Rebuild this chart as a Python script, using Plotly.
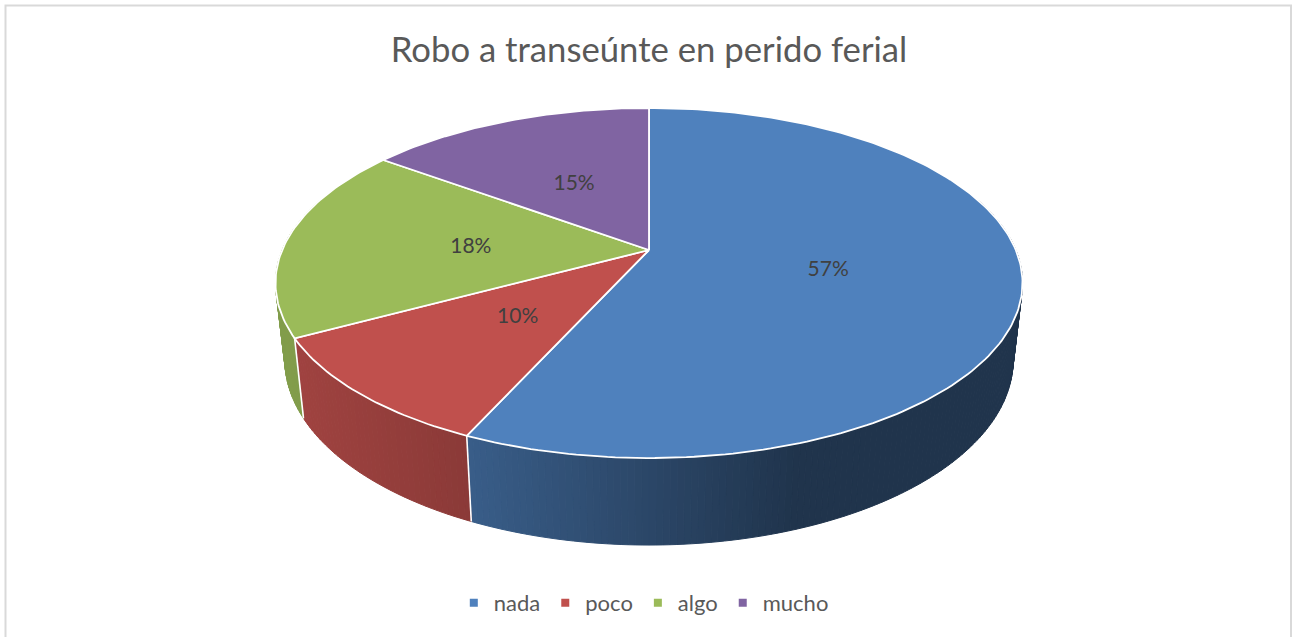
import math
import plotly.graph_objects as go

categories = ["nada", "poco", "algo", "mucho"]
values = [56.75, 10.35, 18.0, 14.9]
base_colors = ["#4f81bd", "#c0504d", "#9bbb59", "#8064a2"]
value_labels = ["57%", "10%", "18%", "15%"]
chart_title = "Robo a transeúnte en perido ferial"

FONT = "Lato, Carlito, Calibri, sans-serif"
TEXT = "#595959"
W, H = 1298, 637

# perspective projection of the pie disc
APEX_X, APEX_Y = 649.0, 250.0
A, B, K = 366.8, 168.8, 0.1886


def top_point(turn, r=1.0):
    t = 2 * math.pi * turn
    x, y = r * math.sin(t), r * math.cos(t)
    w = 1 + K * y
    return APEX_X + A * x / w, APEX_Y - B * y / w


def bottom_point(turn):
    sx, sy = top_point(turn)
    return APEX_X + 0.975 * (sx - APEX_X), 545 + 1.058 * (sy - 458)


def shade(hex_color, sx):
    stops = [(280, 0.84), (470, 0.72), (800, 0.40), (1030, 0.40)]
    f = stops[-1][1]
    if sx <= stops[0][0]:
        f = stops[0][1]
    for (x0, f0), (x1, f1) in zip(stops, stops[1:]):
        if x0 <= sx <= x1:
            f = f0 + (f1 - f0) * (sx - x0) / (x1 - x0)
    r, g, b = (int(hex_color[i:i + 2], 16) for i in (1, 3, 5))
    return f"rgb({r * f:.0f},{g * f:.0f},{b * f:.0f})"


def poly(xs, ys, fill, line_color, line_width):
    return go.Scatter(x=xs, y=ys, mode="lines", fill="toself", fillcolor=fill,
                      line=dict(color=line_color, width=line_width),
                      hoverinfo="skip", showlegend=False)


total = sum(values)
edges = [0.0]
for v in values:
    edges.append(edges[-1] + v / total)

fig = go.Figure()

# side wall: only the strips on the near half can be seen
for i, color in enumerate(base_colors):
    a0, a1 = max(edges[i], 0.2), min(edges[i + 1], 0.80)
    if a1 <= a0:
        continue
    n = max(2, int((a1 - a0) * 400))
    for j in range(n):
        t0 = a0 + (a1 - a0) * j / n
        t1 = a0 + (a1 - a0) * (j + 1) / n
        p = [top_point(t0), top_point(t1), bottom_point(t1), bottom_point(t0)]
        c = shade(color, (p[0][0] + p[1][0]) / 2)
        fig.add_trace(poly([q[0] for q in p] + [p[0][0]], [q[1] for q in p] + [p[0][1]], c, c, 1))

# white seams between wall segments
for i in range(1, len(values)):
    turn = edges[i]
    if 0.25 < turn < 0.75:
        t, b = top_point(turn), bottom_point(turn)
        fig.add_trace(go.Scatter(x=[t[0], b[0]], y=[t[1], b[1]], mode="lines",
                                 line=dict(color="white", width=1.6),
                                 hoverinfo="skip", showlegend=False))

# top faces
for i, color in enumerate(base_colors):
    n = max(4, int((edges[i + 1] - edges[i]) * 360))
    pts = [top_point(edges[i] + (edges[i + 1] - edges[i]) * j / n) for j in range(n + 1)]
    xs = [APEX_X] + [q[0] for q in pts] + [APEX_X]
    ys = [APEX_Y] + [q[1] for q in pts] + [APEX_Y]
    fig.add_trace(poly(xs, ys, color, "white", 1.8))

# value labels (their text sits a little below the geometric anchor)
mids = [(edges[i] + edges[i + 1]) / 2 for i in range(len(values))]
label_pts = [top_point(m, 0.49) for m in mids]
fig.add_trace(go.Scatter(x=[q[0] for q in label_pts], y=[q[1] + 3 for q in label_pts], mode="text",
                         text=value_labels, textposition="middle center",
                         textfont=dict(family=FONT, size=21, color="#404040"),
                         hoverinfo="skip", showlegend=False))

# legend entries
for name, color in zip(categories, base_colors):
    fig.add_trace(go.Scatter(x=[None], y=[None], mode="markers", name=name,
                             marker=dict(symbol="square", size=8, color=color)))

fig.update_layout(
    width=W, height=H, autosize=False,
    margin=dict(l=0, r=0, t=0, b=0),
    paper_bgcolor="white", plot_bgcolor="white",
    title=dict(text=chart_title, x=0.5, xanchor="center", y=1 - 50 / H, yanchor="middle",
               font=dict(family=FONT, size=34.7, color=TEXT)),
    xaxis=dict(range=[0, W], visible=False, fixedrange=True),
    yaxis=dict(range=[H, 0], visible=False, fixedrange=True),
    legend=dict(orientation="h", x=0.496, xanchor="center", y=1 - 603 / H, yanchor="middle",
                font=dict(family=FONT, size=22, color=TEXT), itemwidth=30,
                bgcolor="rgba(0,0,0,0)"),
    shapes=[dict(type="rect", xref="x", yref="y", x0=5.5, x1=1291, y0=5.5, y1=660,
                 line=dict(color="#d9d9d9", width=2), layer="below")],
)

fig.write_html("out.html", config={"displayModeBar": False},
               post_script="document.body.style.margin='0';document.body.style.overflow='hidden';")
